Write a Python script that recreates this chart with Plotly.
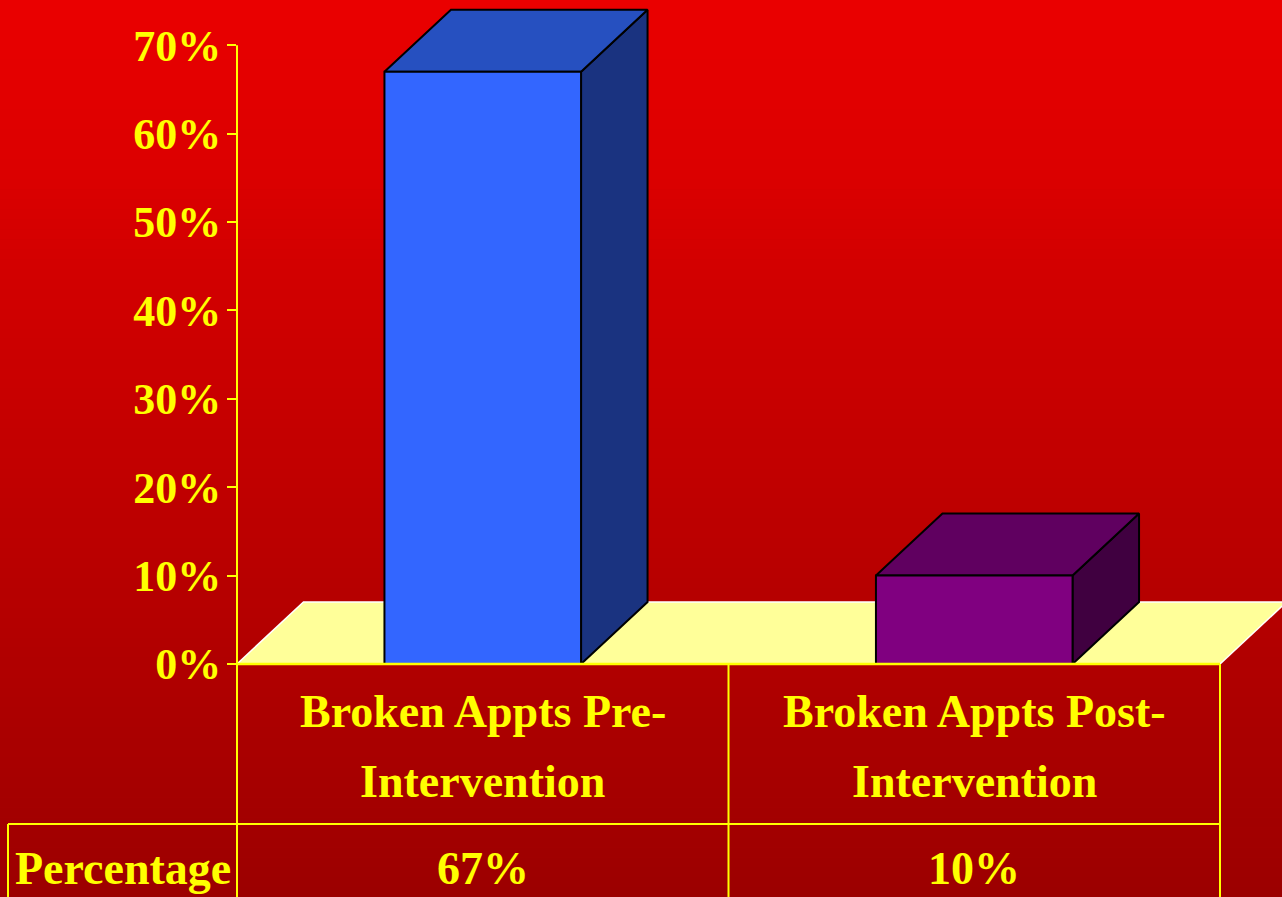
import plotly.graph_objects as go

# ---------------- data ----------------
categories = ["Broken Appts Pre-Intervention", "Broken Appts Post-Intervention"]
category_lines = [["Broken Appts Pre-", "Intervention"], ["Broken Appts Post-", "Intervention"]]
values = [0.67, 0.10]
value_labels = ["67%", "10%"]
row_label = "Percentage"
tick_vals = [0.0, 0.1, 0.2, 0.3, 0.4, 0.5, 0.6, 0.7]
tick_text = ["0%", "10%", "20%", "30%", "40%", "50%", "60%", "70%"]

# ---------------- styles ----------------
front_colors = ["#3366FF", "#800080"]
top_colors = ["#2650C0", "#600060"]
side_colors = ["#1A3380", "#400040"]
floor_color = "#FFFF99"
yellow = "#FFFF00"
font_family = "Liberation Serif"

W, H = 1282, 897
L, B = 237, 233
plot_w = W - L
plot_h = H - B
cat_px = 491.5
y_px_per_unit = 884.0
xr = [-0.5, -0.5 + plot_w / cat_px]
yr = [0.0, plot_h / y_px_per_unit]
half = 0.2
dx = 66.5 / cat_px
dy = 62.0 / y_px_per_unit


def px(xpix):
    return (xpix - L) / plot_w


def py(ypix):
    return (plot_h - ypix) / plot_h


def ypaper(v):
    return (v - yr[0]) / (yr[1] - yr[0])


def xpaper(v):
    return (v - xr[0]) / (xr[1] - xr[0])


fig = go.Figure()

# floor
n = len(categories)
fx0, fx1 = -0.5, n - 0.5
fig.add_trace(go.Scatter(
    x=[fx0, fx1, fx1 + dx, fx0 + dx, fx0], y=[0, 0, dy, dy, 0],
    fill="toself", fillcolor=floor_color, mode="lines",
    line=dict(width=0, color=floor_color), hoverinfo="skip", showlegend=False))
fig.add_trace(go.Scatter(
    x=[fx0, fx0 + dx, fx1 + dx + 1, None, fx1, fx1 + dx], y=[0, dy, dy, None, 0, dy],
    mode="lines", line=dict(width=1.5, color="#FFFFFF"),
    hoverinfo="skip", showlegend=False))

# 3D bars
for i, v in enumerate(values):
    a, b = i - half, i + half
    faces = [
        ([b, b + dx, b + dx, b, b], [0, dy, v + dy, v, 0], side_colors[i]),
        ([a, b, b + dx, a + dx, a], [v, v, v + dy, v + dy, v], top_colors[i]),
        ([a, b, b, a, a], [0, 0, v, v, 0], front_colors[i]),
    ]
    for fxs, fys, col in faces:
        fig.add_trace(go.Scatter(
            x=fxs, y=fys, fill="toself", fillcolor=col, mode="lines",
            line=dict(width=2, color="#000000"), hoverinfo="skip",
            showlegend=False, name=categories[i]))

# background gradient stripes
shapes = []
top_c = (234, 0, 0)
bot_c = (156, 0, 0)
nstripes = 90
for k in range(nstripes):
    y0p = k * H / nstripes
    y1p = (k + 1) * H / nstripes
    t = (k + 0.5) / nstripes
    c = tuple(int(round(top_c[j] + (bot_c[j] - top_c[j]) * t)) for j in range(3))
    shapes.append(dict(type="rect", xref="paper", yref="paper", layer="below",
                       x0=px(0), x1=px(W), y0=py(y1p + 0.5), y1=py(y0p),
                       line=dict(width=0), fillcolor="rgb(%d,%d,%d)" % c))

line_style = dict(color=yellow, width=2)
# value axis line (continues down through the table)
shapes.append(dict(type="line", xref="paper", yref="paper", layer="above",
                   x0=xpaper(fx0), x1=xpaper(fx0), y0=py(H), y1=ypaper(tick_vals[-1]),
                   line=line_style))
# category axis line at zero
shapes.append(dict(type="line", xref="paper", yref="paper", layer="above",
                   x0=xpaper(fx0), x1=xpaper(fx1), y0=ypaper(0), y1=ypaper(0),
                   line=dict(color=yellow, width=2.5)))
# data table grid
row_top = 824
shapes.append(dict(type="line", xref="paper", yref="paper", layer="above",
                   x0=px(8), x1=xpaper(fx1), y0=py(row_top), y1=py(row_top), line=line_style))
for k in range(1, n + 1):
    xv = xpaper(k - 0.5)
    shapes.append(dict(type="line", xref="paper", yref="paper", layer="above",
                       x0=xv, x1=xv, y0=py(H), y1=ypaper(0), line=line_style))
shapes.append(dict(type="line", xref="paper", yref="paper", layer="above",
                   x0=px(8), x1=px(8), y0=py(H), y1=py(row_top), line=line_style))

annotations = []
cat_font = dict(family=font_family, size=46, color=yellow, weight="bold")
for i, lines in enumerate(category_lines):
    for j, txt in enumerate(lines):
        annotations.append(dict(x=i, xref="x", y=py(711 + 70 * j), yref="paper",
                                text=txt, showarrow=False, xanchor="center",
                                yanchor="middle", font=cat_font))
    annotations.append(dict(x=i, xref="x", y=py(868), yref="paper",
                            text=value_labels[i], showarrow=False, xanchor="center",
                            yanchor="middle", font=cat_font))
annotations.append(dict(x=px(122.5), xref="paper", y=py(868), yref="paper",
                        text=row_label, showarrow=False, xanchor="center",
                        yanchor="middle", font=cat_font))

fig.update_layout(
    width=W, height=H,
    margin=dict(l=L, r=0, t=0, b=B, pad=0),
    paper_bgcolor="rgb(190,0,0)",
    plot_bgcolor="rgba(0,0,0,0)",
    showlegend=False,
    shapes=shapes,
    annotations=annotations,
    xaxis=dict(range=xr, visible=False, fixedrange=True),
    yaxis=dict(range=yr, tickvals=tick_vals, ticktext=tick_text,
               ticks="outside", ticklen=9, tickwidth=2, tickcolor=yellow,
               showline=False, showgrid=False, zeroline=False,
               ticklabelstandoff=-3,
               tickfont=dict(family=font_family, size=44, color=yellow, weight="bold"),
               fixedrange=True),
)

fig.write_html("out.html", config={"displayModeBar": False},
               post_script="document.body.style.margin='0px';document.body.style.overflow='hidden';")
